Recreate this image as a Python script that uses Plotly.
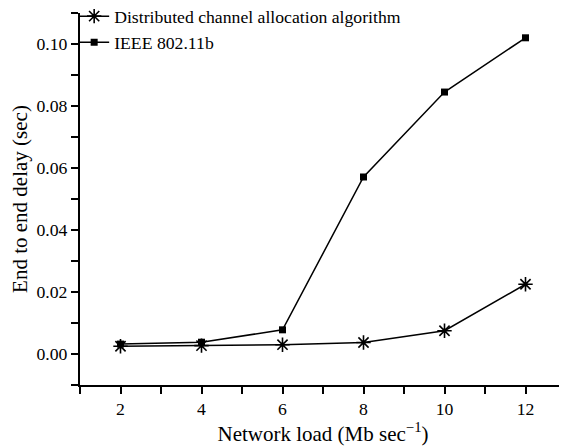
import plotly.graph_objects as go

load = [2, 4, 6, 8, 10, 12]
dist = [0.0025, 0.0027, 0.0030, 0.0037, 0.0075, 0.0225]
ieee = [0.0032, 0.0038, 0.0078, 0.0571, 0.0845, 0.1020]
names = ["Distributed channel allocation algorithm", "IEEE 802.11b"]

fig = go.Figure()
fig.add_trace(go.Scatter(x=load, y=dist, name=names[0], mode="lines+markers",
                         line=dict(color="black", width=1.5),
                         marker=dict(symbol="asterisk-open", size=12, color="black",
                                     line=dict(color="black", width=1.6))))
fig.add_trace(go.Scatter(x=load, y=ieee, name=names[1], mode="lines+markers",
                         line=dict(color="black", width=1.5),
                         marker=dict(symbol="square", size=7, color="black")))

family = "Liberation Serif, Times New Roman, serif"
font = dict(family=family, size=17.7, color="black")
title_font = dict(family=family, size=21, color="black")
# page body has an 8px margin, so the figure is sized to fit within the window
fig.update_layout(
    width=559, height=440,
    margin=dict(l=72, r=1, t=5, b=63, autoexpand=False),
    paper_bgcolor="white", plot_bgcolor="white",
    font=font,
    showlegend=True,
    legend=dict(x=-0.012, y=1.04, xanchor="left", yanchor="top", bgcolor="rgba(0,0,0,0)",
                itemwidth=30, tracegroupgap=0, font=font),
    xaxis=dict(range=[1, 13], tick0=2, dtick=2, showgrid=False, zeroline=False,
               showline=True, linecolor="black", linewidth=2, automargin=False,
               tickfont=font,
               ticks="outside", ticklen=7, tickwidth=2, tickcolor="black",
               minor=dict(dtick=1, tick0=1, ticks="outside", ticklen=7, tickwidth=2, tickcolor="black"),
               title=dict(text="Network load (Mb sec<sup>−1</sup>)", standoff=8, font=title_font)),
    yaxis=dict(range=[-0.01, 0.11], tick0=0, dtick=0.02, tickformat=".2f",
               showgrid=False, zeroline=False, automargin=False,
               tickfont=font,
               showline=True, linecolor="black", linewidth=2,
               ticks="outside", ticklen=7, tickwidth=2, tickcolor="black",
               minor=dict(dtick=0.01, ticks="outside", ticklen=7, tickwidth=2, tickcolor="black"),
               title=dict(text="End to end delay (sec)", standoff=8, font=title_font)),
)
fig.write_html("out.html")
